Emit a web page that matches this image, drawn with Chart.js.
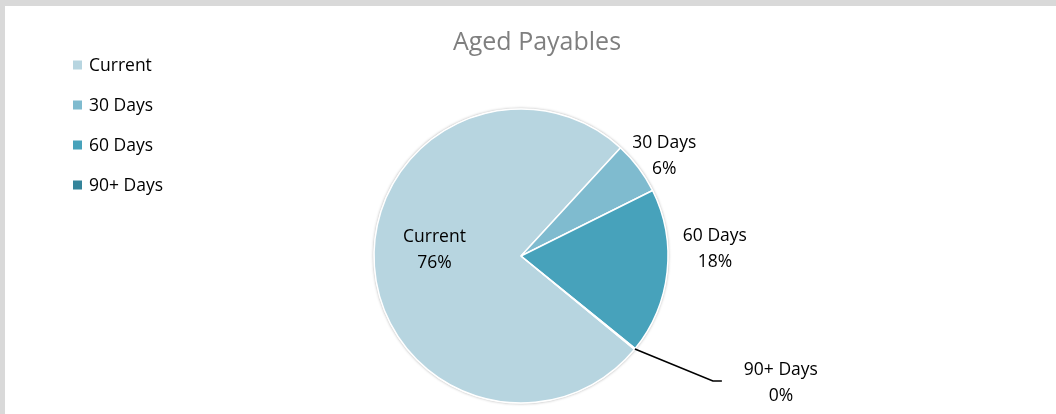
<!DOCTYPE html>
<html><head><meta charset="utf-8">
<script src="https://cdn.jsdelivr.net/npm/chart.js@4"></script>
<style>html,body{margin:0;padding:0;background:#fff;overflow:hidden}#wrap{width:1056px;height:414px;position:relative}</style>
</head><body><div id="wrap"><canvas id="c" width="1056" height="414"></canvas></div>
<script>
// ---- data ----
const categories = ['Current', '30 Days', '60 Days', '90+ Days'];
const shares = [75.9, 5.8, 18.2, 0.1];
const chartTitle = 'Aged Payables';

// ---- styles / layout ----
const sliceColors = ['#B7D5E0', '#7FBBCF', '#47A2BB', '#34849A'];
const FONT = '"Open Sans", "DejaVu Sans", sans-serif';
// label placement relative to each slice: radial factor of radius, plus pixel nudge
const labelPlacement = [
  {f: 0.59, dx: 0, dy: -12},
  {f: 1.19, dx: 3.5, dy: 5},
  {f: 1.32, dx: 1, dy: -28},
  {f: 1.0, dx: 146, dy: 34, leader: true}
];

const total = shares.reduce((a, b) => a + b, 0);
const pctText = shares.map(v => Math.round(v / total * 100) + '%');

const framePlugin = {
  id: 'frame',
  beforeDraw(chart) {
    const ctx = chart.ctx;
    ctx.save();
    ctx.fillStyle = '#fff';
    ctx.fillRect(0, 0, chart.width, chart.height);
    ctx.fillStyle = '#D9D9D9';
    ctx.fillRect(0, 0, chart.width, 6);
    ctx.fillRect(0, 0, 5, chart.height);
    // title
    ctx.fillStyle = '#7F7F7F';
    ctx.font = '25px ' + FONT;
    ctx.textAlign = 'center';
    ctx.textBaseline = 'middle';
    ctx.fillText(chartTitle, 537, 43);
    // legend
    ctx.font = '17.5px ' + FONT;
    ctx.textAlign = 'left';
    categories.forEach((c, i) => {
      const y = 65 + i * 40;
      ctx.fillStyle = sliceColors[i];
      ctx.fillRect(73, y - 4.5, 9, 9);
      ctx.fillStyle = '#000';
      ctx.fillText(c, 89, y + 1.5);
    });
    ctx.restore();
  },
  beforeDatasetsDraw(chart) {
    const arc = chart.getDatasetMeta(0).data[0];
    if (!arc) return;
    const ctx = chart.ctx;
    ctx.save();
    ctx.shadowColor = 'rgba(0,0,0,0.35)';
    ctx.shadowBlur = 3;
    ctx.fillStyle = '#fff';
    ctx.beginPath();
    ctx.arc(arc.x, arc.y, arc.outerRadius + 0.5, 0, Math.PI * 2);
    ctx.fill();
    ctx.restore();
  },
  afterDatasetsDraw(chart) {
    const ctx = chart.ctx;
    const arcs = chart.getDatasetMeta(0).data;
    ctx.save();
    ctx.font = '17.5px ' + FONT;
    ctx.fillStyle = '#000';
    ctx.textAlign = 'center';
    ctx.textBaseline = 'middle';
    arcs.forEach((a, i) => {
      const p = a.getProps(['x', 'y', 'startAngle', 'endAngle', 'outerRadius'], true);
      const mid = (p.startAngle + p.endAngle) / 2;
      const pl = labelPlacement[i];
      const ex = p.x + Math.cos(mid) * p.outerRadius;
      const ey = p.y + Math.sin(mid) * p.outerRadius;
      const lx = p.x + Math.cos(mid) * p.outerRadius * pl.f + pl.dx;
      const ly = p.y + Math.sin(mid) * p.outerRadius * pl.f + pl.dy;
      if (pl.leader) {
        ctx.strokeStyle = '#000';
        ctx.lineWidth = 1.6;
        ctx.beginPath();
        ctx.moveTo(ex, ey);
        ctx.lineTo(lx - 68, ly - 2);
        ctx.lineTo(lx - 59, ly - 2);
        ctx.stroke();
      }
      ctx.fillText(categories[i], lx, ly - 12.75);
      ctx.fillText(pctText[i], lx, ly + 12.75);
    });
    ctx.restore();
  }
};

new Chart(document.getElementById('c'), {
  type: 'pie',
  data: {
    labels: categories,
    datasets: [{
      data: shares,
      backgroundColor: sliceColors,
      borderColor: '#ffffff',
      borderWidth: 1.5,
      hoverOffset: 0,
      radius: 147,
      rotation: 129.4
    }]
  },
  options: {
    responsive: false,
    animation: false,
    events: [],
    layout: {padding: {left: 374, right: 388, top: 109, bottom: 11}},
    plugins: {legend: {display: false}, title: {display: false}, tooltip: {enabled: false}}
  },
  plugins: [framePlugin]
});
</script>
</body></html>
